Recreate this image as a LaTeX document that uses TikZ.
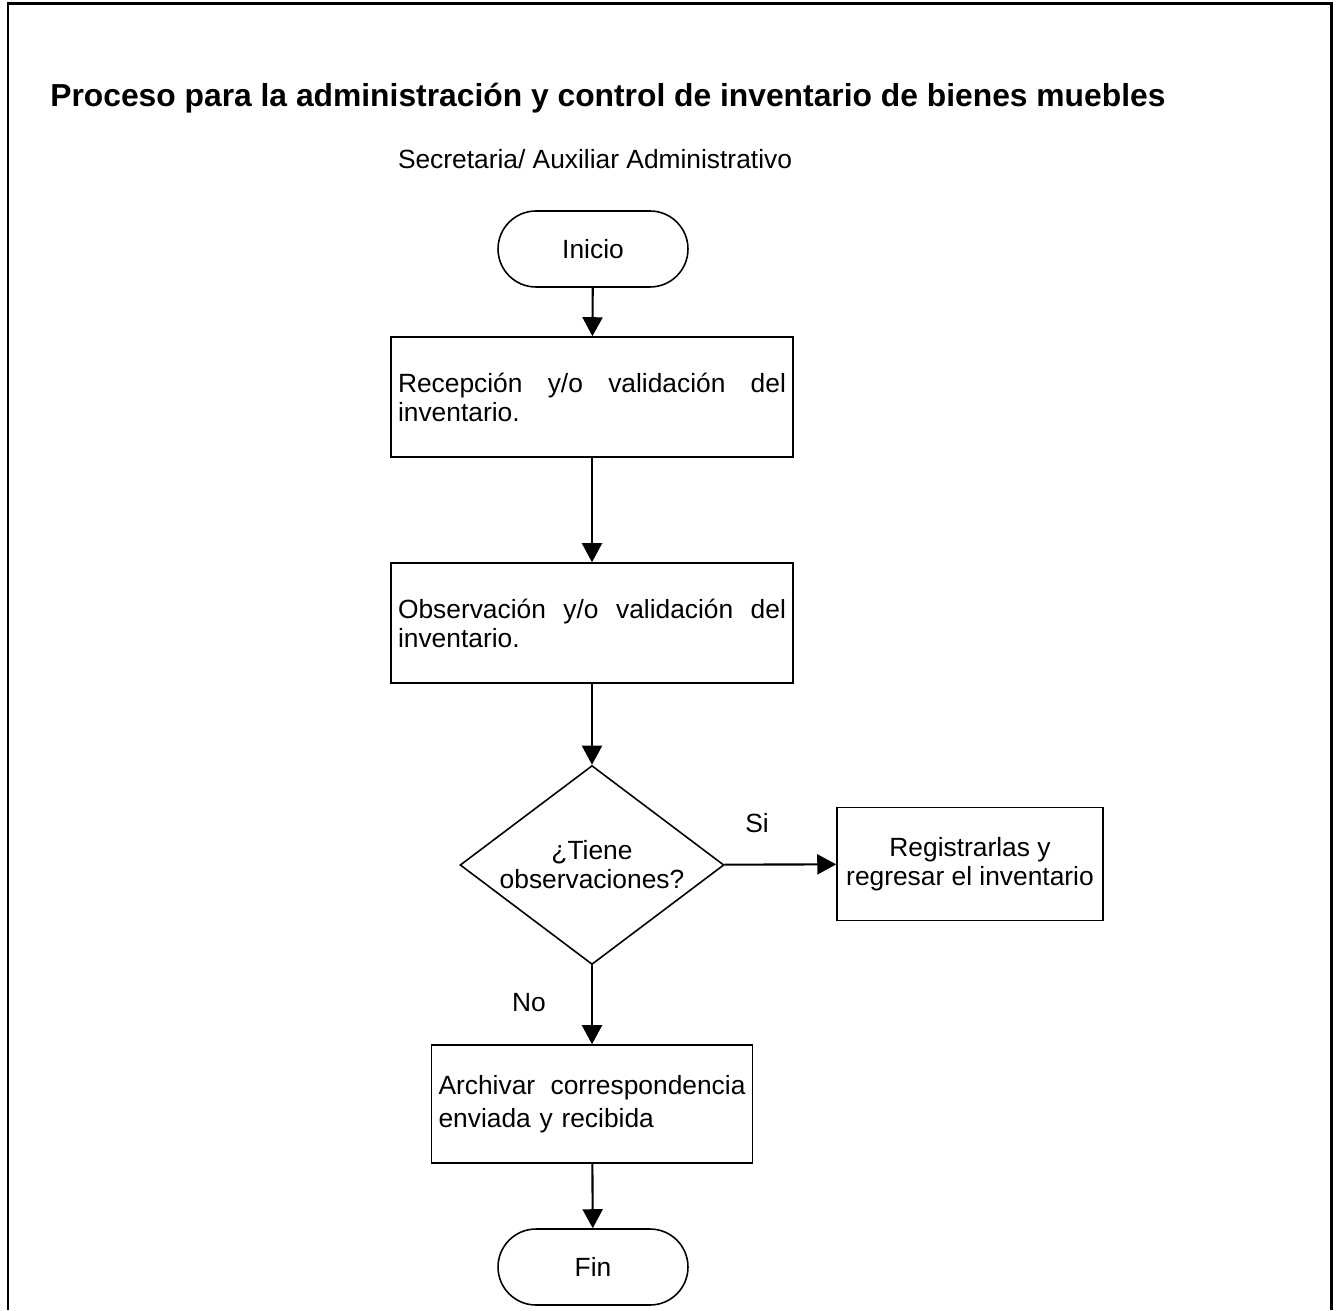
\documentclass[tikz,border=0pt]{standalone}
\usepackage{fontspec}
\setmainfont{Liberation Sans}
\usetikzlibrary{arrows.meta,shapes.geometric}

\begin{document}
\begin{tikzpicture}[x=0.02cm, y=-0.02cm,
    every node/.style={font=\fontsize{15}{16.5}\selectfont},
    terminal/.style={draw, line width=0.9pt, rounded corners=0.76cm,
      minimum width=3.8cm, minimum height=1.52cm},
    proceso/.style={draw, line width=0.9pt, align=left, inner xsep=0.14cm},
    decision/.style={draw, line width=0.9pt, diamond, aspect=1.327, inner sep=0pt,
      minimum width=5.28cm, minimum height=3.98cm, align=center},
    flecha/.style={line width=1.2pt, -{Triangle[length=0.38cm, width=0.4cm]}}]
  \useasboundingbox (0,0) rectangle (1337,1310);
  % marco abierto por abajo
  \draw[line width=1.7pt] (8,1310) -- (8,4) -- (1331,4) -- (1331,1310);

  % Titulos
  \node[anchor=base west, inner sep=0pt, font=\fontsize{18.1}{21}\selectfont\bfseries] (titulo) at (50,107)
    {Proceso para la administración y control de inventario de bienes muebles};
  \node[anchor=base] (puesto) at (595,169) {Secretaria/ Auxiliar Administrativo};

  % Nodos
  \node[terminal] (inicio) at (593,249) {Inicio};
  \node[proceso, text width=7.76cm, minimum height=2.4cm] (recepcion) at (592,397)
    {Recepción\hfill y/o\hfill validación\hfill del\\inventario.};
  \node[proceso, text width=7.76cm, minimum height=2.4cm] (observacion) at (592,623)
    {Observación\hfill y/o\hfill validación\hfill del\\inventario.};
  \node[decision] (tiene) at (592,865) {¿Tiene\\observaciones?};
  \node[proceso, align=center, minimum width=5.32cm, minimum height=2.26cm] (registrar) at (970,864)
    {Registrarlas y\\regresar el inventario};
  \node[proceso, text width=6.14cm, minimum height=2.36cm,
    font=\fontsize{15}{18.5}\selectfont] (archivar) at (592,1104)
    {Archivar\hfill correspondencia\\enviada y recibida};
  \node[terminal] (fin) at (593,1267) {Fin};

  % Etiquetas
  \node (si) at (757,823) {Si};
  \node (no) at (529,1003) {No};

  % Conectores
  \draw[flecha] (inicio) -- (recepcion);
  \draw[flecha] (recepcion) -- (observacion);
  \draw[flecha] (observacion) -- (tiene);
  \draw[flecha] (tiene) -- (registrar);
  \draw[flecha] (tiene) -- (archivar);
  \draw[flecha] (archivar) -- (fin);
\end{tikzpicture}
\end{document}
